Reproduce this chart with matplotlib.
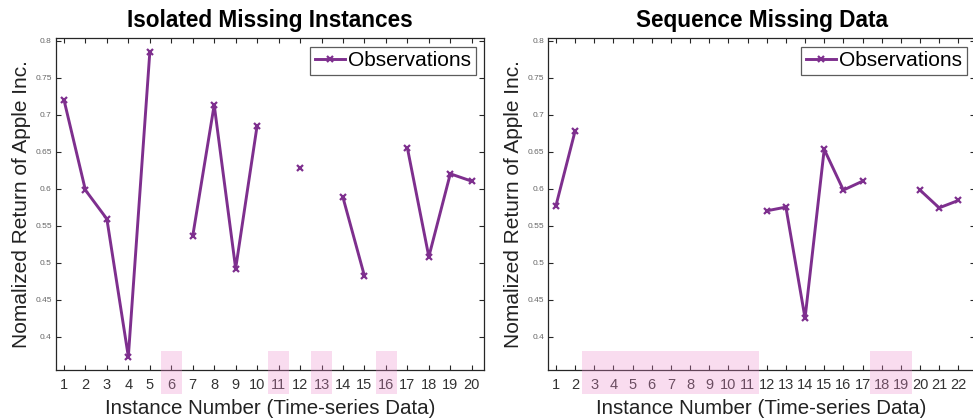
import numpy as np
import matplotlib
matplotlib.use("Agg")
import matplotlib.pyplot as plt
from matplotlib.patches import Rectangle
import matplotlib.transforms as mtransforms

plt.rcParams['font.family'] = ['Liberation Sans', 'DejaVu Sans']

# ---- data ----
nan = np.nan
x_left = list(range(1, 21))
y_left = [0.720, 0.598, 0.559, 0.373, 0.784, nan, 0.536, 0.713, 0.492, 0.685,
          nan, 0.628, nan, 0.588, 0.482, nan, 0.655, 0.508, 0.620, 0.610]
missing_left = [[6], [11], [13], [16]]

x_right = list(range(1, 23))
y_right = [0.577, 0.678, nan, nan, nan, nan, nan, nan, nan, nan, nan,
           0.570, 0.575, 0.425, 0.653, 0.598, 0.610, nan, nan, 0.598, 0.574, 0.584]
missing_right = [[3, 4, 5, 6, 7, 8, 9, 10, 11], [18, 19]]

yticks = [0.4, 0.45, 0.5, 0.55, 0.6, 0.65, 0.7, 0.75, 0.8]
ytick_labels = ['0.4', '0.45', '0.5', '0.55', '0.6', '0.65', '0.7', '0.75', '0.8']

titles = ['Isolated Missing Instances', 'Sequence Missing Data']
xlabel = 'Instance Number (Time-series Data)'
ylabel = 'Nomalized Return of Apple Inc.'
legend_label = 'Observations'

# ---- style ----
W, H = 973, 420
fig = plt.figure(figsize=(W / 100, H / 100), dpi=100)
line_color = '#7E2F8E'
axis_color = '#262626'

def px_axes(l, t, r, b):
    return fig.add_axes([l / W, (H - b) / H, (r - l) / W, (b - t) / H])

ax1 = px_axes(56, 38.3, 484, 370)
ax2 = px_axes(548.3, 38.3, 975, 370)

configs = [
    (ax1, x_left, y_left, missing_left, (0.63, 20.57), 0.47, 0.50, titles[0]),
    (ax2, x_right, y_right, missing_right, (0.60, 22.87), 0.62, 0.60, titles[1]),
]

for ax, xs, ys, missing, xlim, padl, padr, title in configs:
    ax.plot(xs, ys, color=line_color, lw=2.1, marker='x', ms=4.5, mew=1.6,
            label=legend_label)
    ax.set_xlim(*xlim)
    ax.set_ylim(0.355, 0.803)
    ax.set_xticks(xs)
    ax.set_xticklabels([str(v) for v in xs], fontsize=10.5, color='#333333')
    ax.set_yticks(yticks)
    ax.set_yticklabels(ytick_labels, fontsize=6, color='#666666')
    ax.tick_params(axis='both', direction='in', top=True, right=True,
                   length=3.5, width=0.8, color=axis_color)
    ax.tick_params(axis='x', pad=6)
    ax.tick_params(axis='y', pad=3)
    for sp in ax.spines.values():
        sp.set_color(axis_color)
        sp.set_linewidth(0.9)
    ax.set_xlabel(xlabel, fontsize=14.8, color='#222222', labelpad=5)
    ax.set_ylabel(ylabel, fontsize=15, color='#222222', labelpad=3)
    ax.set_title(title, fontsize=16.3, fontweight='bold', pad=8)
    leg = ax.legend(loc='upper right', fontsize=15, frameon=True, fancybox=False,
                    handlelength=1.45, handletextpad=0.15, borderpad=0.22,
                    borderaxespad=0.4, edgecolor='#333333')
    leg.get_frame().set_linewidth(0.9)
    trans = mtransforms.blended_transform_factory(ax.transData, ax.transAxes)
    for grp in missing:
        x0 = min(grp) - padl
        x1 = max(grp) + padr
        ax.add_patch(Rectangle((x0, -0.072), x1 - x0, 0.129, transform=trans,
                               facecolor=(0.93, 0.55, 0.80), alpha=0.3,
                               edgecolor='none', clip_on=False, zorder=10))

fig.savefig('out.png', dpi=100)
